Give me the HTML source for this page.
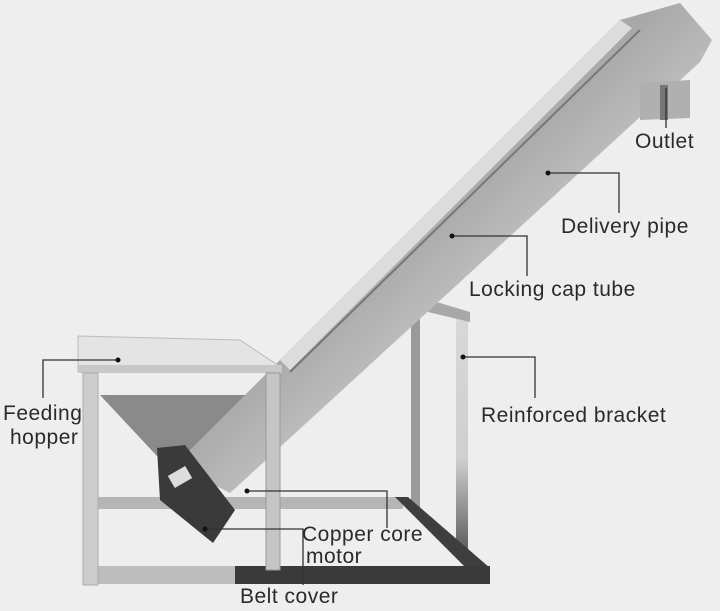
<!DOCTYPE html>
<html><head><meta charset="utf-8"><style>
html,body{margin:0;padding:0;background:#eeeeee;}
svg{display:block}
text{font-family:"Liberation Sans",sans-serif;font-size:21px;letter-spacing:0.5px;fill:#2a2a2a}
</style></head><body>
<svg width="720" height="611" viewBox="0 0 720 611" xmlns="http://www.w3.org/2000/svg">
<defs>
<linearGradient id="tube" x1="0" y1="0" x2="1" y2="1">
<stop offset="0" stop-color="#d2d2d2"/><stop offset="0.45" stop-color="#a8a8a8"/><stop offset="0.7" stop-color="#d6d6d6"/><stop offset="1" stop-color="#959595"/>
</linearGradient>
<linearGradient id="post" x1="0" y1="0" x2="0" y2="1">
<stop offset="0" stop-color="#d8d8d8"/><stop offset="0.6" stop-color="#cfcfcf"/><stop offset="1" stop-color="#555"/>
</linearGradient>
</defs>
<rect width="720" height="611" fill="#eeeeee"/>
<rect x="411" y="318" width="9" height="195" fill="#9a9a9a"/>
<rect x="456" y="312" width="12" height="245" fill="url(#post)"/>
<polygon points="430,300 470,312 470,322 428,312" fill="#a8a8a8"/>
<rect x="98" y="497" width="305" height="12" fill="#b5b5b5"/>
<polygon points="395,497 408,497 490,568 478,580" fill="#3e3e3e"/>
<rect x="85" y="566" width="405" height="18" fill="#3a3a3a"/>
<rect x="85" y="566" width="150" height="18" fill="#bdbdbd"/>
<polygon points="100,395 272,395 210,470 170,470" fill="#8a8a8a"/>
<polygon points="175,465 620,20 680,3 712,40 700,62 230,493" fill="url(#tube)"/>
<polygon points="280,360 620,20 632,28 290,370" fill="#dcdcdc"/>
<line x1="290" y1="372" x2="640" y2="30" stroke="#777" stroke-width="2"/>
<polygon points="640,83 690,80 690,118 640,120" fill="#b0b0b0"/>
<rect x="660" y="85" width="8" height="35" fill="#777"/>
<polygon points="78,336 240,340 282,368 78,372" fill="#e4e4e4" stroke="#bbb"/>
<rect x="78" y="365" width="204" height="8" fill="#c8c8c8"/>
<rect x="83" y="373" width="15" height="212" fill="#cdcdcd" stroke="#aaa"/>
<rect x="266" y="373" width="14" height="197" fill="#c5c5c5" stroke="#999"/>
<polygon points="157,448 185,445 235,510 213,543 160,500" fill="#3a3a3a"/>
<rect x="170" y="470" width="20" height="14" fill="#ddd" transform="rotate(-30 180 477)"/>
<g stroke="#333" stroke-width="1.3" fill="none">
<polyline points="666,88 666,128"/>
<polyline points="548,173 619,173 619,213"/>
<polyline points="452,236 527,236 527,276"/>
<polyline points="463,357 535,357 535,398"/>
<polyline points="118,360 43,360 43,398"/>
<polyline points="247,491 387,491 387,528"/>
<polyline points="205,529 303,529 303,585"/>
</g>
<g fill="#111">
<circle cx="548" cy="173" r="2.5"/><circle cx="452" cy="236" r="2.5"/><circle cx="463" cy="357" r="2.5"/>
<circle cx="118" cy="360" r="2.5"/><circle cx="247" cy="491" r="2.5"/><circle cx="205" cy="529" r="2.5"/>
</g>
<text x="635" y="148">Outlet</text>
<text x="561" y="233">Delivery pipe</text>
<text x="469" y="296">Locking cap tube</text>
<text x="481" y="422">Reinforced bracket</text>
<text x="3" y="420">Feeding</text>
<text x="10" y="444">hopper</text>
<text x="302" y="541">Copper core</text>
<text x="306" y="563">motor</text>
<text x="240" y="603">Belt cover</text>
</svg>
</body></html>
